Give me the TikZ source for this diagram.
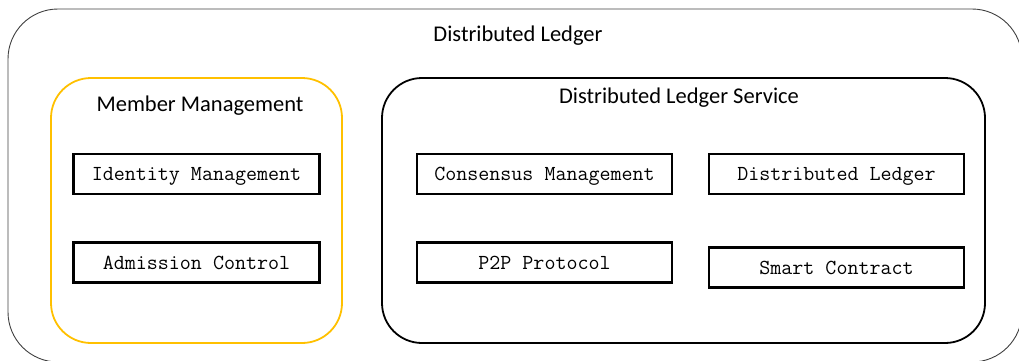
\documentclass[tikz,border=0pt]{standalone}
\usepackage{fontspec}
\setmainfont{Carlito}
\usetikzlibrary{positioning}
\definecolor{ledgerorange}{HTML}{FFC000}

\begin{document}
\begin{tikzpicture}[
    x=1pt, y=-1pt,
    outerbox/.style={rectangle, draw=black!75, line width=0.9pt, rounded corners=50pt, minimum width=1014pt, minimum height=353pt},
    groupbox/.style={rectangle, draw, line width=1.8pt, rounded corners=40pt, minimum width=#1, minimum height=265pt},
    module/.style={rectangle, draw, line width=2.8pt, minimum width=246pt, minimum height=40pt, text height=13.5pt, text depth=-1pt, font=\ttfamily\fontsize{21.4}{23}\selectfont},
    widemodule/.style={module, minimum width=255pt},
    title/.style={font=\fontsize{22.5}{26}\selectfont}
]
\useasboundingbox (0,0) rectangle (1019,360);
\clip (0,0) rectangle (1019,360);

% Containers
\node[outerbox] (ledger) at (515,185.5) {};
\node[groupbox=291pt, draw=ledgerorange] (member) at (196.5,210.5) {};
\node[groupbox=603pt] (service) at (683.5,210.5) {};

% Titles
\node[title] (ledgertitle) at (518,36) {Distributed Ledger};
\node[title] (membertitle) at (200,106) {Member Management};
\node[title] (servicetitle) at (679,98) {Distributed Ledger Service};

% Modules
\node[module] (identity) at (196.5,174) {Identity Management};
\node[module] (admission) at (196.5,262.5) {Admission Control};
\node[widemodule] (consensus) at (544.5,174) {Consensus Management};
\node[widemodule] (dledger) at (836.5,174) {Distributed Ledger};
\node[widemodule] (p2p) at (544.5,262.5) {P2P Protocol};
\node[widemodule] (contract) at (836.5,267.5) {Smart Contract};

\end{tikzpicture}
\end{document}
